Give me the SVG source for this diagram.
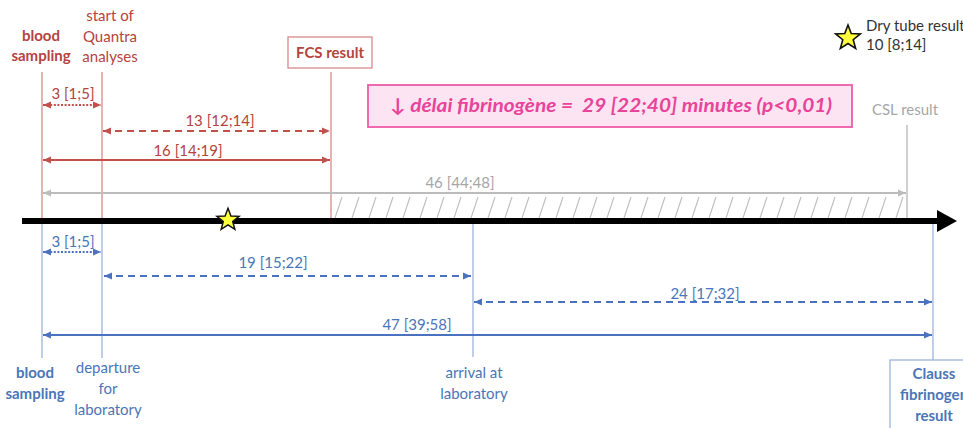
<svg xmlns="http://www.w3.org/2000/svg" width="963" height="428" viewBox="0 0 963 428">
<style>
text{font-family:Lato,"Open Sans","Liberation Sans",sans-serif;font-size:15px;text-anchor:middle}
.r{fill:#b5433e}
.b{fill:#4a76b8}
.g{fill:#a6a6a6}
.k{fill:#333;text-anchor:start}
.bold{font-weight:bold}
.vr{stroke:#d98a8a;stroke-width:1.3;fill:none}
.vb{stroke:#9fb3dc;stroke-width:1.3;fill:none}
.vg{stroke:#b5b5b5;stroke-width:1.3;fill:none}
.ar{stroke:#c4504b;stroke-width:2.2;fill:none;marker-start:url(#mr);marker-end:url(#mr)}
.ab{stroke:#4a72c0;stroke-width:2.2;fill:none;marker-start:url(#mb);marker-end:url(#mb)}
.ag{stroke:#bcbcbc;stroke-width:2;fill:none;marker-start:url(#mg);marker-end:url(#mg)}
.dot{stroke-dasharray:2 1.6}
.dash{stroke-dasharray:7 5}
</style>
<defs>
<marker id="mr" viewBox="0 0 8 8" refX="8" refY="4" markerWidth="8" markerHeight="8" markerUnits="userSpaceOnUse" orient="auto-start-reverse"><path d="M0,0.5 L8,4 L0,7.5 z" fill="#c4504b"/></marker>
<marker id="mb" viewBox="0 0 8 8" refX="8" refY="4" markerWidth="8" markerHeight="8" markerUnits="userSpaceOnUse" orient="auto-start-reverse"><path d="M0,0.5 L8,4 L0,7.5 z" fill="#4a72c0"/></marker>
<marker id="mg" viewBox="0 0 8 8" refX="8" refY="4" markerWidth="8" markerHeight="8" markerUnits="userSpaceOnUse" orient="auto-start-reverse"><path d="M0,0.5 L8,4 L0,7.5 z" fill="#bcbcbc"/></marker>
<polygon id="star" points="0,-13 3.23,-4.45 12.36,-4.02 5.23,1.7 7.64,10.52 0,5.5 -7.64,10.52 -5.23,1.7 -12.36,-4.02 -3.23,-4.45" fill="#ffff3c" stroke="#111" stroke-width="1.6" stroke-linejoin="miter"/>
</defs>

<g id="hatch">
<path d="M335,218 L342,197 M352,218 L359,197 M369,218 L376,197 M386,218 L393,197 M403,218 L410,197 M420,218 L427,197 M437,218 L444,197 M454,218 L461,197 M471,218 L478,197 M488,218 L495,197 M505,218 L512,197 M522,218 L529,197 M539,218 L546,197 M556,218 L563,197 M573,218 L580,197 M590,218 L597,197 M607,218 L614,197 M624,218 L631,197 M641,218 L648,197 M658,218 L665,197 M675,218 L682,197 M692,218 L699,197 M709,218 L716,197 M726,218 L733,197 M743,218 L750,197 M760,218 L767,197 M777,218 L784,197 M794,218 L801,197 M811,218 L818,197 M828,218 L835,197 M845,218 L852,197 M862,218 L869,197 M879,218 L886,197 M896,218 L903,197" stroke="#bdbdbd" stroke-width="1.1" fill="none"/>
</g>

<g id="connectors">
<line class="vr" x1="42" y1="72" x2="42" y2="218"/>
<line class="vr" x1="102" y1="72" x2="102" y2="218"/>
<line class="vr" x1="331" y1="72" x2="331" y2="218"/>
<line class="vg" x1="907" y1="125" x2="907" y2="218"/>
<line class="vb" x1="42" y1="224" x2="42" y2="358"/>
<line class="vb" x1="102" y1="224" x2="102" y2="358"/>
<line class="vb" x1="473" y1="224" x2="473" y2="357"/>
<line class="vb" x1="933" y1="224" x2="933" y2="360"/>

<path class="ar dot" d="M43,105 H101"/>
<path class="ar dash" d="M103,131 H330"/>
<path class="ar" d="M43,160 H330"/>
<path class="ag" d="M43,193 H906"/>

<path class="ab dot" d="M43,252 H101"/>
<path class="ab dash" d="M104,276 H471"/>
<path class="ab dash" d="M474,302 H932"/>
<path class="ab" d="M43,335 H932"/>

<line x1="22" y1="221" x2="940" y2="221" stroke="#000" stroke-width="6"/>
<polygon points="937,210 957,221 937,232" fill="#000"/>
</g>

<g id="labels-arrows">
<text class="r" x="73" y="99">3 [1;5]</text>
<text class="r" x="220" y="126">13 [12;14]</text>
<text class="r" x="188" y="156">16 [14;19]</text>
<text class="g" x="460" y="188">46 [44;48]</text>
<text class="b" x="73" y="247">3 [1;5]</text>
<text class="b" x="273" y="268">19 [15;22]</text>
<text class="b" x="705" y="299">24 [17;32]</text>
<text class="b" x="417" y="330">47 [39;58]</text>
</g>

<g id="node-blood-top">
<text class="r bold" x="41" y="41">blood</text>
<text class="r bold" x="41" y="61">sampling</text>
</g>
<g id="node-quantra">
<text class="r" x="110" y="21">start of</text>
<text class="r" x="110" y="42">Quantra</text>
<text class="r" x="110" y="62">analyses</text>
</g>
<g id="node-fcs">
<rect x="288" y="37" width="84" height="31" fill="#fff" stroke="#d88a8a" stroke-width="1.3"/>
<text class="r bold" x="330" y="58">FCS result</text>
</g>
<g id="node-delai">
<rect x="368" y="85" width="484" height="42" fill="#fde4f2" stroke="#ef5aa8" stroke-width="1.8"/>
<text x="611" y="112" textLength="442" lengthAdjust="spacingAndGlyphs" style="font-size:19px;font-weight:bold;font-style:italic;fill:#e8449a;white-space:pre">↓ délai fibrinogène =  29 [22;40] minutes (p&lt;0,01)</text>
</g>
<g id="node-legend">
<use href="#star" transform="translate(848,38)"/>
<text class="k" x="866" y="31">Dry tube result</text>
<text class="k" x="866" y="50">10 [8;14]</text>
</g>
<g id="node-csl">
<text class="g" x="905" y="115">CSL result</text>
</g>
<g id="node-star-axis">
<use href="#star" transform="translate(228,220) scale(0.9)"/>
</g>
<g id="node-blood-bottom">
<text class="b bold" x="35" y="378">blood</text>
<text class="b bold" x="35" y="399">sampling</text>
</g>
<g id="node-departure">
<text class="b" x="108" y="373">departure</text>
<text class="b" x="108" y="394">for</text>
<text class="b" x="108" y="415">laboratory</text>
</g>
<g id="node-arrival">
<text class="b" x="474" y="378">arrival at</text>
<text class="b" x="474" y="399">laboratory</text>
</g>
<g id="node-clauss">
<rect x="890" y="360" width="90" height="80" fill="#fff" stroke="#9fb3dc" stroke-width="1.3"/>
<text class="b bold" x="934" y="379">Clauss</text>
<text class="b bold" x="934" y="400">fibrinogen</text>
<text class="b bold" x="934" y="421">result</text>
</g>
</svg>
